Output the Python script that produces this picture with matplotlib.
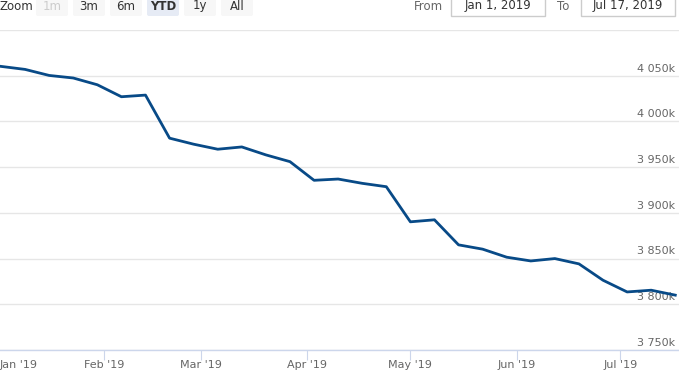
import matplotlib
matplotlib.use("Agg")
import matplotlib.pyplot as plt
import matplotlib.dates as mdates
import matplotlib.transforms as mtransforms
from matplotlib.patches import FancyBboxPatch, Rectangle
import numpy as np
import pandas as pd

# weekly values, in thousands
dates = ["2019-01-02", "2019-01-09", "2019-01-16", "2019-01-23", "2019-01-30",
         "2019-02-06", "2019-02-13", "2019-02-20", "2019-02-27",
         "2019-03-06", "2019-03-13", "2019-03-20", "2019-03-27",
         "2019-04-03", "2019-04-10", "2019-04-17", "2019-04-24",
         "2019-05-01", "2019-05-08", "2019-05-15", "2019-05-22", "2019-05-29",
         "2019-06-05", "2019-06-12", "2019-06-19", "2019-06-26",
         "2019-07-03", "2019-07-10", "2019-07-17"]
values = [4060.2, 4056.9, 4050.3, 4047.5, 4040.1,
          4027.0, 4028.8, 3981.7, 3975.1,
          3969.6, 3972.1, 3963.4, 3956.0,
          3935.6, 3937.0, 3932.3, 3928.6,
          3890.2, 3892.4, 3865.0, 3860.3, 3851.5,
          3847.4, 3850.0, 3844.2, 3826.3,
          3813.5, 3815.4, 3810.0]
y_ticks = [3750, 3800, 3850, 3900, 3950, 4000, 4050, 4100]
buttons = ["1m", "3m", "6m", "YTD", "1y", "All"]
range_from = "Jan 1, 2019"
range_to = "Jul 17, 2019"

W, H = 679, 386
fig = plt.figure(figsize=(W / 100, H / 100), dpi=100)
fig.patch.set_facecolor("white")

# background axes in pixel coords for the range selector bits
bg = fig.add_axes([0, 0, 1, 1], zorder=-1)
bg.set_xlim(0, W)
bg.set_ylim(H, 0)
bg.axis("off")

base = 9.5  # text baseline of the selector row
bg.text(0, base, "Zoom", ha="left", va="baseline", fontsize=8.5, color="#333333")
btn_x = [36, 73, 110, 147, 184, 221]
for bx, name in zip(btn_x, buttons):
    face = "#e6ebf5" if name == "YTD" else "#f7f7f7"
    bg.add_patch(FancyBboxPatch((bx, -8), 32, 24, boxstyle="round,pad=0,rounding_size=2",
                                facecolor=face, edgecolor="none"))
    col = "#cccccc" if name == "1m" else "#333333"
    bg.text(bx + 16, base, name, ha="center", va="baseline", fontsize=8.5, color=col,
            fontweight="bold" if name == "YTD" else "normal")

bg.text(414, base, "From", ha="left", va="baseline", fontsize=8.5, color="#666666")
bg.add_patch(Rectangle((451, -8), 94, 24, facecolor="white", edgecolor="#cccccc", lw=1))
bg.text(498, base, range_from, ha="center", va="baseline", fontsize=8.5, color="#333333")
bg.text(557, base, "To", ha="left", va="baseline", fontsize=8.5, color="#666666")
bg.add_patch(Rectangle((581, -8), 94, 24, facecolor="white", edgecolor="#cccccc", lw=1))
bg.text(628, base, range_to, ha="center", va="baseline", fontsize=8.5, color="#333333")

# main plot
top, bottom = 30, 350
ax = fig.add_axes([0, 1 - bottom / H, 1, (bottom - top) / H])
ax.set_facecolor("none")

x = pd.to_datetime(dates)
ax.plot(x, values, color="#084a87", lw=2, solid_joinstyle="round", zorder=3, clip_on=False)

ax.set_xlim(pd.Timestamp("2019-01-01 17:00"), pd.Timestamp("2019-07-18 02:00"))
ax.set_ylim(3750, 4100)

for s in ["top", "left", "right"]:
    ax.spines[s].set_visible(False)
ax.spines["bottom"].set_color("#ccd6eb")
ax.spines["bottom"].set_linewidth(1)

ax.xaxis.set_major_locator(mdates.MonthLocator())
ax.xaxis.set_major_formatter(mdates.DateFormatter("%b '%y"))
ax.tick_params(axis="x", length=7.2, width=0.8, color="#ccd6eb", labelsize=8,
               labelcolor="#666666", pad=0)
# Jan label is pushed inside the chart edge
fig.text(0, 1 - 365 / H, "Jan '19", ha="left", va="center", fontsize=8, color="#666666")

ax.set_yticks(y_ticks)
ax.set_yticklabels([("%d %03dk" % (v // 1000, v % 1000)) if v != 4100 else "" for v in y_ticks])
ax.yaxis.tick_right()
ax.tick_params(axis="y", length=0, pad=-3, labelsize=8, labelcolor="#666666")
off = mtransforms.ScaledTranslation(0, 1.5 / 72, fig.dpi_scale_trans)
for lab in ax.get_yticklabels():
    lab.set_horizontalalignment("right")
    lab.set_verticalalignment("bottom")
    lab.set_transform(lab.get_transform() + off)
ax.grid(axis="y", color="#e6e6e6", lw=1)
ax.set_axisbelow(True)

fig.savefig("out.png", dpi=100)
